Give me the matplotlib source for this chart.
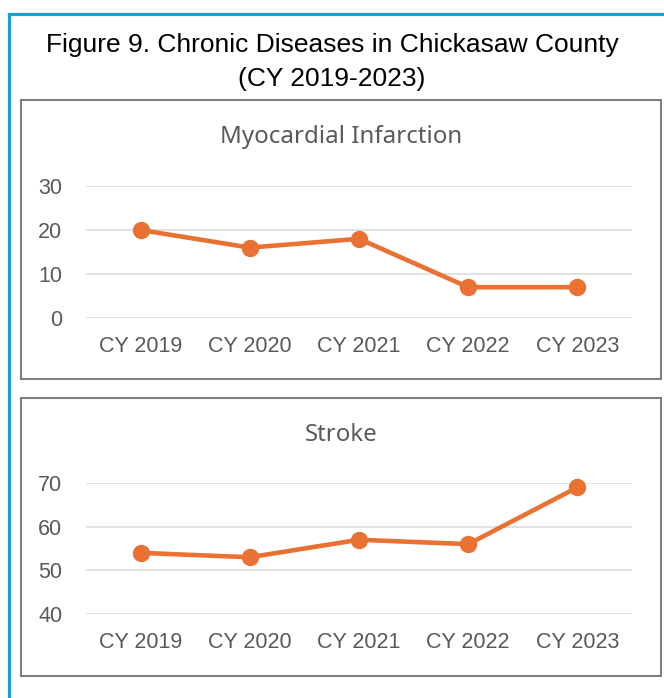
import matplotlib.pyplot as plt
from matplotlib.patches import Rectangle

years = ["CY 2019", "CY 2020", "CY 2021", "CY 2022", "CY 2023"]
mi_values = [20, 16, 18, 7, 7]
stroke_values = [54, 53, 57, 56, 69]

W, H = 664, 698
ORANGE = "#E97132"
GRAY_TXT = "#595959"


def fx(px):
    return px / W


def fy(py):
    return 1 - py / H


def add_panel(fig, box, plot, title, title_y, values, ylim, yticks):
    x0, y0, x1, y1 = box
    fig.patches.append(Rectangle((fx(x0), fy(y1)), fx(x1 - x0), (y1 - y0) / H,
                                 transform=fig.transFigure, fill=False,
                                 edgecolor="#7f7f7f", linewidth=1.5, zorder=0))
    fig.text(fx((x0 + x1) / 2), fy(title_y), title, ha="center", va="center",
             fontsize=17.3, color=GRAY_TXT, family="Noto Sans")

    px0, py0, px1, py1 = plot
    ax = fig.add_axes([fx(px0), fy(py1), fx(px1 - px0), (py1 - py0) / H])
    x = list(range(len(years)))
    ax.plot(x, values, color=ORANGE, linewidth=3.3, marker="o", markersize=11.5,
            solid_capstyle="round", zorder=3, clip_on=False)
    ax.set_xlim(-0.5, len(years) - 0.5)
    ax.set_ylim(*ylim)
    ax.set_yticks(yticks)
    ax.set_xticks(x)
    ax.set_xticklabels(years)
    ax.grid(axis="y", color="#d9d9d9", linewidth=1.1)
    ax.set_axisbelow(True)
    for s in ax.spines.values():
        s.set_visible(False)
    ax.tick_params(length=0, labelsize=15.5, labelcolor=GRAY_TXT)
    ax.tick_params(axis="y", pad=17)
    ax.tick_params(axis="x", pad=13)
    for lbl in ax.get_xticklabels() + ax.get_yticklabels():
        lbl.set_family("Liberation Sans")
    ax.patch.set_alpha(0)
    return ax


fig = plt.figure(figsize=(W / 100, H / 100), dpi=100)

# outer blue frame (left and top edges visible)
fig.add_artist(plt.Line2D([fx(9), fx(9)], [fy(14), 0], transform=fig.transFigure,
                          color="#1a9fd8", linewidth=2.3))
fig.add_artist(plt.Line2D([fx(9), 1], [fy(14), fy(14)], transform=fig.transFigure,
                          color="#1a9fd8", linewidth=2.3))

fig.text(0.5, fy(45), "Figure 9. Chronic Diseases in Chickasaw County", ha="center",
         va="center", fontsize=19, color="black", family="Liberation Sans")
fig.text(0.5, fy(79), "(CY 2019-2023)", ha="center", va="center", fontsize=19,
         color="black", family="Liberation Sans")

add_panel(fig, (21, 100, 661, 379), (86, 186, 632, 318), "Myocardial Infarction", 137,
          mi_values, (0, 30), [0, 10, 20, 30])
add_panel(fig, (21, 398, 661, 676), (86, 483, 632, 614), "Stroke", 435,
          stroke_values, (40, 70), [40, 50, 60, 70])

fig.savefig("out.png", dpi=100)
